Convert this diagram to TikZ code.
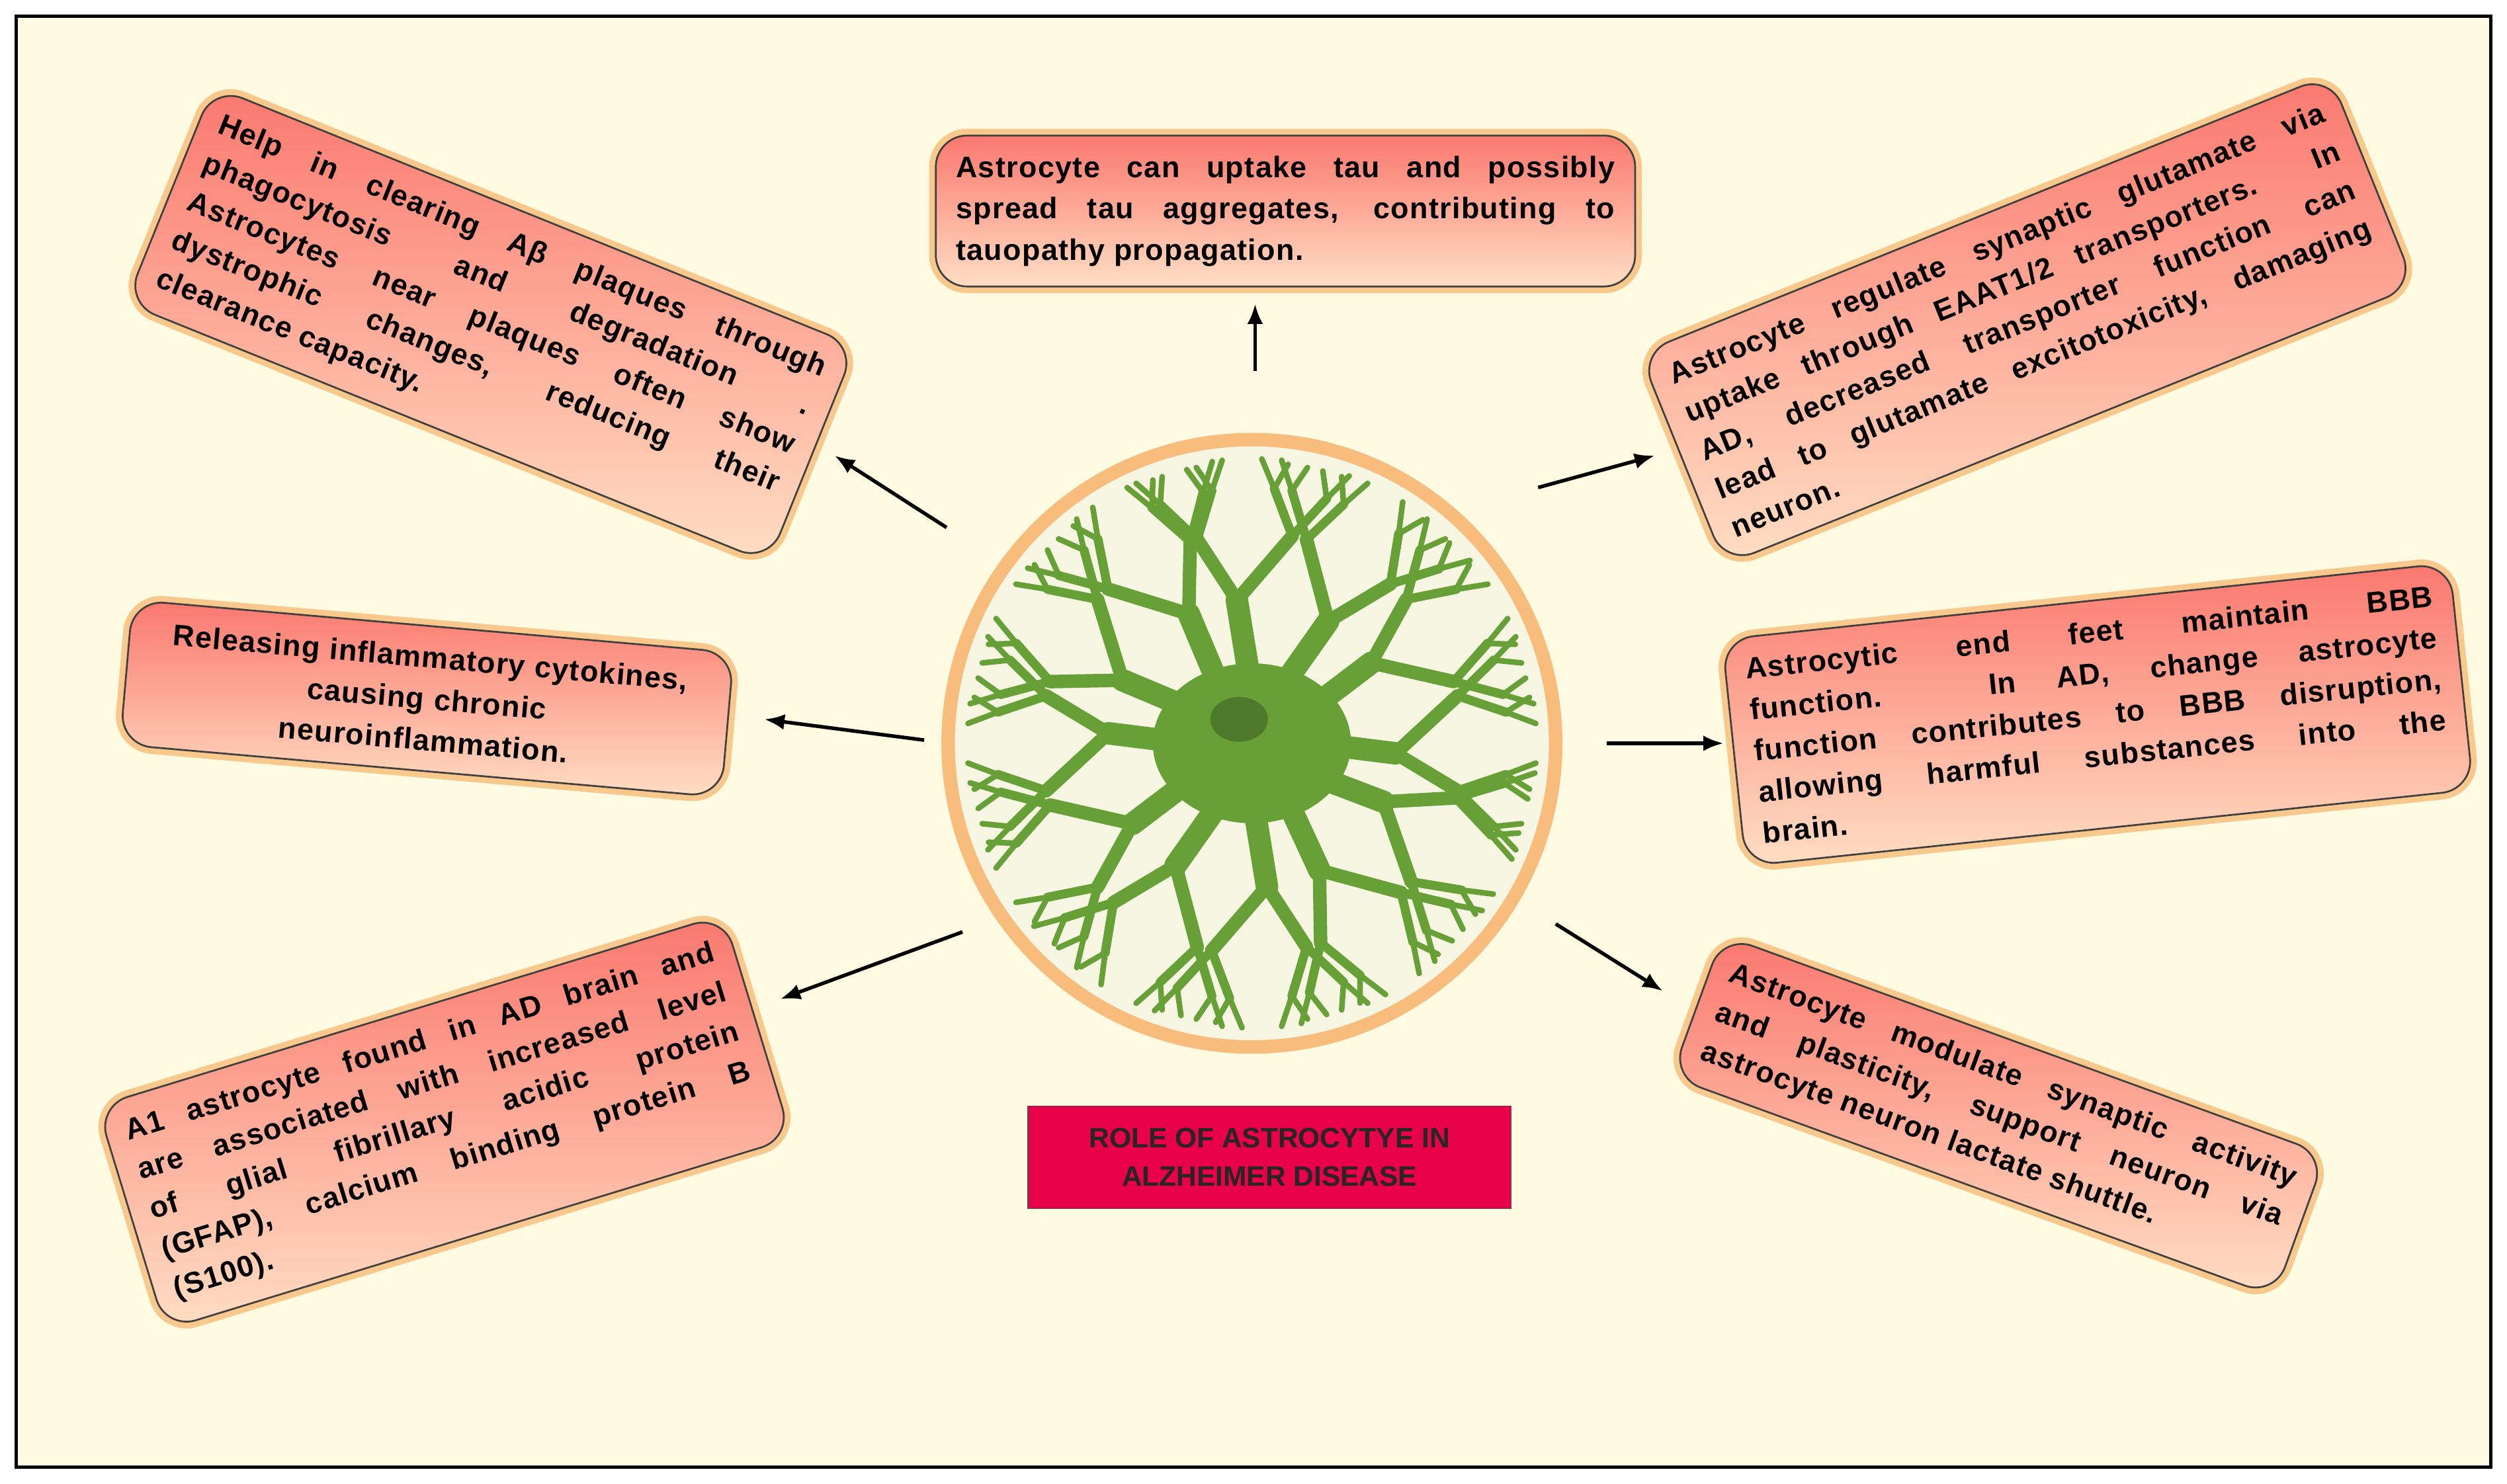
\documentclass[tikz,border=0pt]{standalone}
\usepackage{fontspec}
\setmainfont{Liberation Sans}
\usetikzlibrary{arrows.meta,calc}
\definecolor{cream}{RGB}{255,250,226}
\definecolor{glow}{RGB}{245,160,70}
\definecolor{boxA}{RGB}{250,120,110}
\definecolor{boxB}{RGB}{255,222,195}
\definecolor{leaf}{RGB}{104,160,56}
\definecolor{crim}{RGB}{232,0,72}
\hyphenpenalty=10000
\tikzset{
 card/.style={rounded corners=14pt, draw=black!75, line width=0.8pt,
   top color=boxA, bottom color=boxB, shading angle=0,
   preaction={draw=glow, line width=6pt, opacity=0.55},
   font=\bfseries\fontsize{13.2}{18.4}\selectfont\addfontfeatures{LetterSpace=3}, inner sep=9pt, align=justify},
 arr/.style={-{Latex[length=9pt,width=7pt]}, line width=1.6pt},
}
\begin{document}
\begin{tikzpicture}[x=0.025cm,y=-0.025cm]
\useasboundingbox (0,0) rectangle (1568,928);
\fill[white] (0,0) rectangle (1568,928);
\draw[fill=cream, line width=1.5pt] (10,10) rectangle (1558,918);

% circle with astrocyte
\coordinate (c) at (783,465);
\draw[glow!70, line width=6pt, fill={rgb,255:red,246;green,246;blue,226}] (c) circle (190);
\begin{scope}
\clip (c) circle (186);
\foreach \a/\s in {0/1,28/-1,58/1,88/-1,118/1,150/-1,180/1,210/-1,240/1,268/-1,298/1,330/-1}{
  \draw[leaf, line width=10pt, line cap=round] ($(c)+(\a:40)$) -- ($(c)+(\a+4*\s:90)$);
  \foreach \b in {-13,13}{
    \draw[leaf, line width=6pt, line cap=round] ($(c)+(\a+4*\s:90)$) -- ($(c)+(\a+\b:132)$);
    \foreach \d in {-6,6}{
      \draw[leaf, line width=4pt, line cap=round] ($(c)+(\a+\b:132)$) -- ($(c)+(\a+\b+\d:160)$);
      \draw[leaf, line width=2.5pt, line cap=round] ($(c)+(\a+\b+\d:160)$) -- ($(c)+(\a+\b+\d*1.5:178)$);
      \draw[leaf, line width=2.5pt, line cap=round] ($(c)+(\a+\b+\d:160)$) -- ($(c)+(\a+\b+\d*0.6:176)$);
    }
  }
}
\fill[leaf] (c) ellipse (62 and 50);
\fill[leaf!75!black] (775,450) ellipse (18 and 14);
\end{scope}

% boxes
\node[card, rotate=-22, text width=10.2cm] (b1) at (307,203) {Help in clearing Aβ plaques through\linebreak phagocytosis and degradation .\linebreak Astrocytes near plaques often show\linebreak dystrophic changes, reducing their\linebreak clearance capacity.};
\node[card, text width=10.3cm] (b2) at (804,132) {Astrocyte can uptake tau and possibly\linebreak spread tau aggregates, contributing to\linebreak tauopathy propagation.};
\node[card, rotate=22, text width=11cm] (b3) at (1268,200) {Astrocyte regulate synaptic glutamate via\linebreak uptake through EAAT1/2 transporters. In\linebreak AD, decreased transporter function can\linebreak lead to glutamate excitotoxicity, damaging\linebreak neuron.};
\node[card, rotate=-5, text width=8.8cm, align=center] (b4) at (267,437) {Releasing inflammatory cytokines,\\ causing chronic\\ neuroinflammation.};
\node[card, rotate=6, text width=10.8cm] (b5) at (1312,447) {Astrocytic end feet maintain BBB\linebreak function. In AD, change astrocyte\linebreak function contributes to BBB disruption,\linebreak allowing harmful substances into the\linebreak brain.};
\node[card, rotate=17, text width=9.6cm] (b6) at (278,702) {A1 astrocyte found in AD brain and\linebreak are associated with increased level\linebreak of glial fibrillary acidic protein\linebreak (GFAP), calcium binding protein B\linebreak (S100).};
\node[card, rotate=-20, text width=9.4cm] (b7) at (1250,698) {Astrocyte modulate synaptic activity\linebreak and plasticity, support neuron via\linebreak astrocyte neuron lactate shuttle.};

\node[draw=black!70, fill=crim, minimum width=7.55cm, minimum height=1.6cm, align=center,
  font=\bfseries\fontsize{12.5}{17}\selectfont, text=black!85] (t) at (794,724) {ROLE OF ASTROCYTYE IN\\ALZHEIMER DISEASE};

% arrows
\coordinate (s1) at (592,330); \coordinate (e1) at (522,285);
\coordinate (s2) at (785,232); \coordinate (e2) at (785,190);
\coordinate (s3) at (962,305); \coordinate (e3) at (1035,285);
\coordinate (s4) at (578,463); \coordinate (e4) at (478,450);
\coordinate (s5) at (1005,465); \coordinate (e5) at (1078,465);
\coordinate (s6) at (602,583); \coordinate (e6) at (488,625);
\coordinate (s7) at (973,578); \coordinate (e7) at (1040,620);
\foreach \i in {1,...,7}{\draw[arr] (s\i) -- (e\i);}
\end{tikzpicture}
\end{document}
